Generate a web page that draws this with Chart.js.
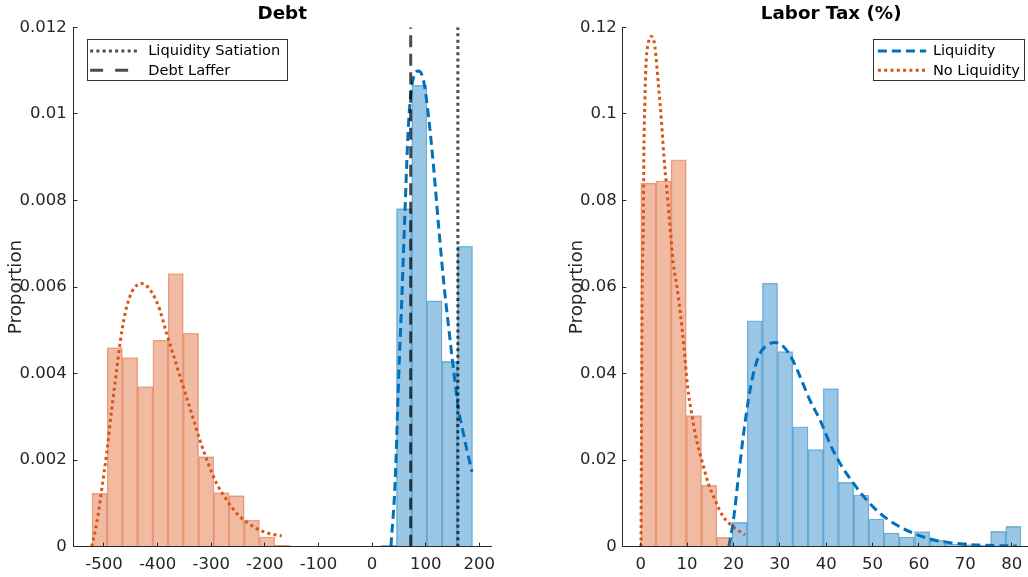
<!DOCTYPE html>
<html>
<head>
<meta charset="utf-8">
<script src="https://cdn.jsdelivr.net/npm/chart.js@4.4.1/dist/chart.umd.min.js"></script>
<style>
  html, body { margin: 0; padding: 0; background: #fff; overflow: hidden; width: 1028px; height: 577px; }
  #wrap { position: relative; width: 1028px; height: 577px; overflow: hidden; }
  canvas { position: absolute; top: 0; }
  #debt { left: 0; }
  #tax { left: 520px; }
</style>
</head>
<body>
<div id="wrap">
  <canvas id="debt" width="515" height="577"></canvas>
  <canvas id="tax" width="520" height="577"></canvas>
</div>
<script>
// ---------- Debt panel ----------
const debtBinCenters_noLiq = [-508.2, -479.8, -451.4, -423.0, -394.6, -366.2, -337.8, -309.4, -281.0, -252.6, -224.2, -195.8, -167.4];
const debtProp_noLiq = [0.00123, 0.0046, 0.00437, 0.0037, 0.00477, 0.00631, 0.00493, 0.00208, 0.00125, 0.00118, 0.000615, 0.000223, 0.00003];
const debtBinCenters_liq = [31.2, 59.6, 88.0, 116.4, 144.8, 173.2];
const debtProp_liq = [0.00003, 0.00781, 0.01066, 0.00568, 0.00428, 0.00694];

const debtFitX_noLiq = [-522.9, -513.7, -504.4, -495.1, -485.8, -476.5, -470.2, -460.8, -448.3, -429.7, -411.0, -395.6, -383.1, -367.6, -352.1, -336.6, -321.1, -305.5, -290.0, -271.2, -252.6, -231.0, -209.1, -187.2, -168.6];
const debtFitY_noLiq = [0, 0.00054, 0.00131, 0.00215, 0.00315, 0.00408, 0.00469, 0.00538, 0.00588, 0.00608, 0.00588, 0.00546, 0.00492, 0.00431, 0.00369, 0.00308, 0.00246, 0.00192, 0.00146, 0.00108, 0.00077, 0.00054, 0.00038, 0.00029, 0.00025];
const debtFitX_liq = [35.2, 43.2, 49.4, 55.6, 61.5, 68.1, 77.4, 86.7, 96.0, 105.4, 114.7, 124.0, 133.3, 142.7, 152.0, 161.4, 167.6, 176.9, 186.3];
const debtFitY_liq = [0, 0.00154, 0.00385, 0.00577, 0.0078, 0.0098, 0.01085, 0.01099, 0.01077, 0.00993, 0.00877, 0.00742, 0.00615, 0.00508, 0.00408, 0.00315, 0.00277, 0.00223, 0.00173];

const debtSatiation = 160;
const debtLaffer = 72;

const debtXTicks = [-500, -400, -300, -200, -100, 0, 100, 200];
const debtXTickLabels = ['-500', '-400', '-300', '-200', '-100', '0', '100', '200'];
const debtYTicks = [0, 0.002, 0.004, 0.006, 0.008, 0.010, 0.012];
const debtYTickLabels = ['0', '0.002', '0.004', '0.006', '0.008', '0.01', '0.012'];

// ---------- Labor tax panel ----------
const taxBinCenters_noLiq = [1.64, 4.92, 8.20, 11.48, 14.76, 18.04, 21.32];
const taxProp_noLiq = [0.0840, 0.0845, 0.0894, 0.0303, 0.01415, 0.00215, 0.0002];
const taxBinCenters_liq = [21.32, 24.60, 27.88, 31.16, 34.44, 37.72, 41.00, 44.28, 47.56, 50.84, 54.12, 57.40, 60.68, 63.96, 67.24, 70.52, 73.80, 77.08, 80.36];
const taxProp_liq = [0.00562, 0.0522, 0.0609, 0.0451, 0.0277, 0.02246, 0.03654, 0.01485, 0.01192, 0.00638, 0.00316, 0.00224, 0.0035, 0.00146, 0.0006, 0.0005, 0.0003, 0.00353, 0.00469];

const taxFitX_liq = [19.0, 20.0, 21.0, 22.1, 23.2, 24.3, 25.7, 27.2, 29.0, 30.8, 32.6, 34.4, 36.5, 38.7, 40.8, 43.0, 45.9, 48.7, 51.6, 55.2, 58.8, 62.4, 66.0, 70.3, 74.6, 81.1];
const taxFitY_liq = [0, 0.00615, 0.01538, 0.0254, 0.0338, 0.04, 0.0446, 0.0465, 0.0472, 0.0462, 0.0435, 0.0392, 0.0338, 0.0292, 0.0238, 0.0192, 0.0146, 0.0108, 0.0077, 0.005, 0.0031, 0.00177, 0.001, 0.00054, 0.0003, 0.00015];
const taxFitX_noLiq = [0.07, 0.19, 0.33, 0.55, 0.69, 0.91, 1.12, 1.63, 2.35, 3.07, 3.79, 4.51, 5.01, 5.59, 6.31, 7.03, 7.89, 8.61, 9.33, 10.12, 10.98, 12.06, 13.36, 14.58, 16.02, 17.82, 19.98, 22.5];
const taxFitY_noLiq = [0, 0.0308, 0.0615, 0.0724, 0.0917, 0.1032, 0.1109, 0.1163, 0.1179, 0.1155, 0.1071, 0.0979, 0.0901, 0.0832, 0.074, 0.0655, 0.0595, 0.0535, 0.0462, 0.0369, 0.0308, 0.0246, 0.0192, 0.0146, 0.0108, 0.0069, 0.0046, 0.0027];

const taxXTicks = [0, 10, 20, 30, 40, 50, 60, 70, 80];
const taxXTickLabels = ['0', '10', '20', '30', '40', '50', '60', '70', '80'];
const taxYTicks = [0, 0.02, 0.04, 0.06, 0.08, 0.10, 0.12];
const taxYTickLabels = ['0', '0.02', '0.04', '0.06', '0.08', '0.1', '0.12'];

// ---------- styling helpers ----------
const FONT = 'DejaVu Sans';
const INK = '#262626';
const BLUE_RGB = '0,114,189';
const ORANGE_RGB = '217,83,25';

function pts(xs, ys) { return xs.map((x, i) => ({ x: x, y: ys[i] })); }

function histogram(label, xs, ys, rgb) {
  return {
    type: 'bar', label: label, data: pts(xs, ys),
    backgroundColor: 'rgba(' + rgb + ',0.4)',
    borderColor: 'rgba(' + rgb + ',0.45)',
    borderWidth: 0.7, borderSkipped: 'start',
    grouped: false, barPercentage: 1, categoryPercentage: 1,
    order: 5
  };
}

function curve(label, xs, ys, rgb, dash, inLegend) {
  return {
    type: 'line', label: label, data: pts(xs, ys),
    borderColor: 'rgb(' + rgb + ')', borderWidth: 3, borderDash: dash, borderCapStyle: 'butt',
    pointRadius: 0, fill: false, cubicInterpolationMode: 'monotone',
    inLegend: inLegend, order: 2
  };
}

function vline(label, x, yTop, dash, legendDash) {
  return {
    type: 'line', label: label, data: [{ x: x, y: 0 }, { x: x, y: yTop }],
    borderColor: 'rgba(0,0,0,0.7)', borderWidth: 3, borderDash: dash, legendDash: legendDash,
    borderCapStyle: 'butt', pointRadius: 0, fill: false, tension: 0,
    inLegend: true, order: 1
  };
}

function fixedTicks(values) {
  return function (scale) { scale.ticks = values.map(v => ({ value: v })); };
}

function xAxis(min, max, values, labels) {
  return {
    type: 'linear', position: 'bottom', min: min, max: max, offset: false, bounds: 'data',
    afterBuildTicks: fixedTicks(values),
    afterFit: s => { s.height = 30.33; },
    grid: { display: true, offset: false, drawOnChartArea: false, drawTicks: true, tickLength: -4, tickColor: INK, tickWidth: 1, z: 1 },
    border: { display: true, color: INK, width: 1, z: 1 },
    ticks: { autoSkip: false, maxRotation: 0, minRotation: 0, padding: 11.7, color: INK,
             font: { family: FONT, size: 16.5 }, callback: (v, i) => labels[i] }
  };
}

function yAxis(max, values, labels, width, titlePad, labelPad) {
  return {
    type: 'linear', position: 'left', min: 0, max: max, bounds: 'data',
    afterBuildTicks: fixedTicks(values),
    afterFit: s => { s.width = width; },
    grid: { display: true, offset: false, drawOnChartArea: false, drawTicks: true, tickLength: -4, tickColor: INK, tickWidth: 1, z: 1 },
    border: { display: true, color: INK, width: 1, z: 1 },
    ticks: { autoSkip: false, padding: labelPad, color: INK,
             font: { family: FONT, size: 16.5 }, callback: (v, i) => labels[i] },
    title: { display: true, text: 'Proportion', color: INK, font: { family: FONT, size: 18.3 },
             padding: { top: titlePad, bottom: 0 } }
  };
}

// Framed legend drawn inside the plot area, listing datasets flagged inLegend
const boxLegend = {
  id: 'boxLegend',
  afterDraw(chart, args, o) {
    const ctx = chart.ctx, area = chart.chartArea;
    const items = chart.data.datasets.filter(d => d.inLegend);
    if (!items.length) return;
    ctx.save();
    ctx.font = o.fontSize + 'px "' + FONT + '"';
    const textW = Math.max.apply(null, items.map(d => ctx.measureText(d.label).width));
    const w = o.textX + textW + o.padRight;
    const h = o.height;
    const left = o.side === 'left' ? area.left + o.dx : area.right + o.dx - w;
    const top = area.top + o.dy;
    ctx.fillStyle = '#fff';
    ctx.fillRect(left, top, w, h);
    ctx.strokeStyle = '#333';
    ctx.lineWidth = 1;
    ctx.strokeRect(Math.round(left) + 0.5, Math.round(top) + 0.5, Math.round(w), Math.round(h));
    items.forEach((d, i) => {
      const y = top + o.rowY[i];
      ctx.save();
      ctx.strokeStyle = d.borderColor;
      ctx.lineWidth = d.borderWidth;
      ctx.lineCap = 'butt';
      ctx.setLineDash(d.legendDash || d.borderDash || []);
      ctx.beginPath();
      ctx.moveTo(left + o.sampleX, y);
      ctx.lineTo(left + o.sampleX + o.sampleLen, y);
      ctx.stroke();
      ctx.restore();
      ctx.fillStyle = '#000';
      ctx.textBaseline = 'middle';
      ctx.textAlign = 'left';
      ctx.fillText(d.label, left + o.textX, y + 0.6);
    });
    ctx.restore();
  }
};

function panel(canvasId, title, datasets, xScale, yScale, padRight, legendOpts) {
  return new Chart(document.getElementById(canvasId), {
    type: 'bar',
    data: { datasets: datasets },
    options: {
      responsive: false, animation: false, devicePixelRatio: 1,
      layout: { padding: { left: 0, right: padRight, top: 0, bottom: 0 } },
      scales: { x: xScale, y: yScale },
      plugins: {
        legend: { display: false },
        tooltip: { enabled: false },
        title: { display: true, text: title, fullSize: false, color: '#000',
                 font: { family: FONT, size: 18.3, weight: 'bold' },
                 padding: { top: 3.2, bottom: 2.17 } },
        boxLegend: legendOpts
      }
    },
    plugins: [boxLegend]
  });
}

panel('debt', 'Debt', [
    vline('Liquidity Satiation', debtSatiation, 0.012, [3, 3.3], [3, 3.25]),
    vline('Debt Laffer', debtLaffer, 0.012, [12, 6.5], [13, 12]),
    curve('Liquidity fit', debtFitX_liq, debtFitY_liq, BLUE_RGB, [9, 5], false),
    curve('No Liquidity fit', debtFitX_noLiq, debtFitY_noLiq, ORANGE_RGB, [3, 3.3], false),
    histogram('No Liquidity', debtBinCenters_noLiq, debtProp_noLiq, ORANGE_RGB),
    histogram('Liquidity', debtBinCenters_liq, debtProp_liq, BLUE_RGB)
  ],
  xAxis(-557.2, 221.8, debtXTicks, debtXTickLabels),
  yAxis(0.012, debtYTicks, debtYTickLabels, 73.33, 5.7, 10.6),
  24,
  { side: 'left', dx: 13.3, dy: 12, height: 41.4, sampleX: 3.5, sampleLen: 50, textX: 61.6, padRight: 6,
    rowY: [11.6, 30.8], fontSize: 14.6 }
);

panel('tax', 'Labor Tax (%)', [
    curve('Liquidity', taxFitX_liq, taxFitY_liq, BLUE_RGB, [9, 5], true),
    curve('No Liquidity', taxFitX_noLiq, taxFitY_noLiq, ORANGE_RGB, [3, 3.3], true),
    histogram('No Liquidity', taxBinCenters_noLiq, taxProp_noLiq, ORANGE_RGB),
    histogram('Liquidity', taxBinCenters_liq, taxProp_liq, BLUE_RGB)
  ],
  xAxis(-3.96, 86.1, taxXTicks, taxXTickLabels),
  yAxis(0.12, taxYTicks, taxYTickLabels, 102.33, 46, 9.7),
  0,
  { side: 'right', dx: -15.7, dy: 12, height: 41.4, sampleX: 5, sampleLen: 48.3, textX: 60, padRight: 4.5,
    rowY: [11.6, 30.8], fontSize: 14.6 }
);
</script>
</body>
</html>
